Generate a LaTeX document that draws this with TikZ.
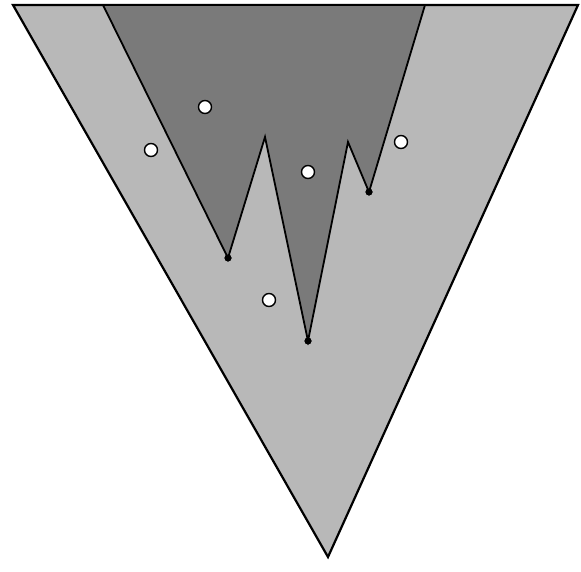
\documentclass[tikz,border=0pt]{standalone}
\begin{document}
\begin{tikzpicture}[x=1pt,y=-1pt,
  outer/.style={fill=black!28,draw=black,line width=2.2pt,line join=miter},
  inner/.style={fill=black!52,draw=black,line width=1.8pt,line join=miter},
  hole/.style={circle,fill=white,draw=black,line width=1.4pt,inner sep=0pt,minimum size=13pt},
  tip/.style={circle,fill=black,inner sep=0pt,minimum size=7pt}]
\useasboundingbox (0,0) rectangle (581,571);
\coordinate (TL) at (13,5);
\coordinate (TR) at (578,5);
\coordinate (B) at (328,557);
\draw[outer] (TL) -- (TR) -- (B) -- cycle;
\coordinate (DL) at (103,5);
\coordinate (DR) at (425,5);
\coordinate (P1) at (265,137);
\coordinate (P2) at (348,142);
\node[tip] (t1) at (228,258) {};
\node[tip] (t2) at (308,341) {};
\node[tip] (t3) at (369,192) {};
\draw[inner] (DL) -- (t1.center) -- (P1) -- (t2.center) -- (P2) -- (t3.center) -- (DR) -- cycle;
\node[tip] at (t1) {};
\node[tip] at (t2) {};
\node[tip] at (t3) {};
\draw[line width=2.2pt] (TL) -- (TR);
\node[hole] (h1) at (151,150) {};
\node[hole] (h2) at (205,107) {};
\node[hole] (h3) at (308,172) {};
\node[hole] (h4) at (401,142) {};
\node[hole] (h5) at (269,300) {};
\end{tikzpicture}
\end{document}
